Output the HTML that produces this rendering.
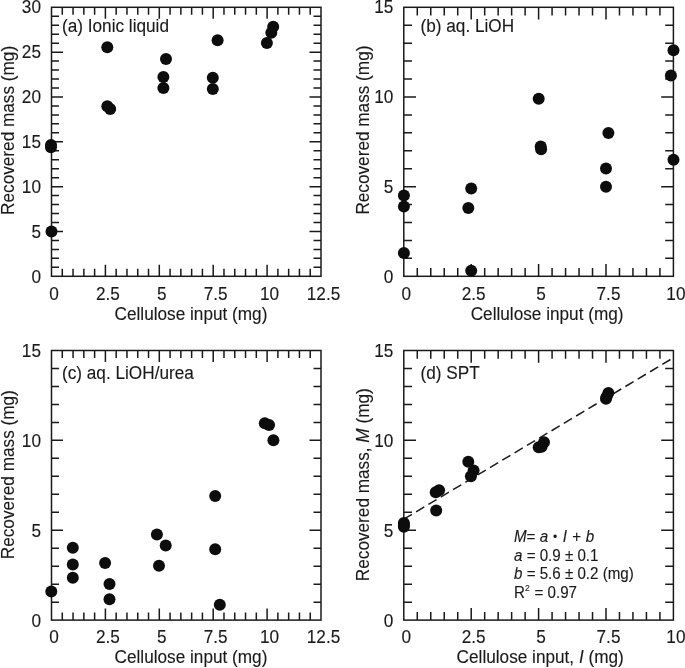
<!DOCTYPE html>
<html lang="en">
<head>
<meta charset="utf-8">
<title>Recovered mass vs cellulose input</title>
<style>
html,body{margin:0;padding:0;background:#fff;}
body{width:685px;height:668px;overflow:hidden;}
svg{display:block;will-change:transform;}
svg text{font-family:"Liberation Sans",Arial,Helvetica,sans-serif;font-size:17.2px;fill:#1a1a1a;stroke:#1a1a1a;stroke-width:0.12;}
.ax{stroke:#1a1a1a;stroke-width:1.5;fill:none;stroke-linecap:butt;}
.pt{fill:#0d0d0d;}
.sm{font-size:15.15px;}
</style>
</head>
<body>
<svg width="685" height="668" viewBox="0 0 685 668">
<rect x="0" y="0" width="685" height="668" fill="#ffffff"/>
<g id="panel-a">
<path class="ax" d="M62.28 276.3V268.8M62.28 7.3V14.8M73.06 276.3V268.8M73.06 7.3V14.8M83.84 276.3V268.8M83.84 7.3V14.8M94.62 276.3V268.8M94.62 7.3V14.8M105.4 276.3V264.8M105.4 7.3V18.8M116.18 276.3V268.8M116.18 7.3V14.8M126.96 276.3V268.8M126.96 7.3V14.8M137.74 276.3V268.8M137.74 7.3V14.8M148.52 276.3V268.8M148.52 7.3V14.8M159.3 276.3V264.8M159.3 7.3V18.8M170.08 276.3V268.8M170.08 7.3V14.8M180.86 276.3V268.8M180.86 7.3V14.8M191.64 276.3V268.8M191.64 7.3V14.8M202.42 276.3V268.8M202.42 7.3V14.8M213.2 276.3V264.8M213.2 7.3V18.8M223.98 276.3V268.8M223.98 7.3V14.8M234.76 276.3V268.8M234.76 7.3V14.8M245.54 276.3V268.8M245.54 7.3V14.8M256.32 276.3V268.8M256.32 7.3V14.8M267.1 276.3V264.8M267.1 7.3V18.8M277.88 276.3V268.8M277.88 7.3V14.8M288.66 276.3V268.8M288.66 7.3V14.8M299.44 276.3V268.8M299.44 7.3V14.8M310.22 276.3V268.8M310.22 7.3V14.8M51.5 267.33H59M321 267.33H313.5M51.5 258.37H59M321 258.37H313.5M51.5 249.4H59M321 249.4H313.5M51.5 240.43H59M321 240.43H313.5M51.5 231.47H63M321 231.47H309.5M51.5 222.5H59M321 222.5H313.5M51.5 213.53H59M321 213.53H313.5M51.5 204.57H59M321 204.57H313.5M51.5 195.6H59M321 195.6H313.5M51.5 186.63H63M321 186.63H309.5M51.5 177.67H59M321 177.67H313.5M51.5 168.7H59M321 168.7H313.5M51.5 159.73H59M321 159.73H313.5M51.5 150.77H59M321 150.77H313.5M51.5 141.8H63M321 141.8H309.5M51.5 132.83H59M321 132.83H313.5M51.5 123.87H59M321 123.87H313.5M51.5 114.9H59M321 114.9H313.5M51.5 105.93H59M321 105.93H313.5M51.5 96.97H63M321 96.97H309.5M51.5 88H59M321 88H313.5M51.5 79.03H59M321 79.03H313.5M51.5 70.07H59M321 70.07H313.5M51.5 61.1H59M321 61.1H313.5M51.5 52.13H63M321 52.13H309.5M51.5 43.17H59M321 43.17H313.5M51.5 34.2H59M321 34.2H313.5M51.5 25.23H59M321 25.23H313.5M51.5 16.27H59M321 16.27H313.5"/>
<rect class="ax" x="51.5" y="7.3" width="269.5" height="269"/>
<text transform="translate(54 299.6) scale(1 1.04)" text-anchor="middle">0</text>
<text transform="translate(107.9 299.6) scale(1 1.04)" text-anchor="middle">2.5</text>
<text transform="translate(161.8 299.6) scale(1 1.04)" text-anchor="middle">5</text>
<text transform="translate(215.7 299.6) scale(1 1.04)" text-anchor="middle">7.5</text>
<text transform="translate(269.6 299.6) scale(1 1.04)" text-anchor="middle">10</text>
<text transform="translate(323.5 299.6) scale(1 1.04)" text-anchor="middle">12.5</text>
<text transform="translate(41 282.8) scale(1 1.04)" text-anchor="end">0</text>
<text transform="translate(41 237.78) scale(1 1.04)" text-anchor="end">5</text>
<text transform="translate(41 192.75) scale(1 1.04)" text-anchor="end">10</text>
<text transform="translate(41 147.73) scale(1 1.04)" text-anchor="end">15</text>
<text transform="translate(41 102.7) scale(1 1.04)" text-anchor="end">20</text>
<text transform="translate(41 57.68) scale(1 1.04)" text-anchor="end">25</text>
<text transform="translate(41 12.65) scale(1 1.04)" text-anchor="end">30</text>
<text transform="translate(62 31.6) scale(1 1.04)">(a) Ionic liquid</text>
<text transform="translate(191 320) scale(1 1.04)" text-anchor="middle">Cellulose input (mg)</text>
<text transform="translate(14.3 130.4) rotate(-90) scale(1 1.04)" text-anchor="middle">Recovered mass (mg)</text>
<circle class="pt" cx="51" cy="144.9" r="6"/>
<circle class="pt" cx="51" cy="147.3" r="6"/>
<circle class="pt" cx="51.5" cy="231.6" r="6"/>
<circle class="pt" cx="107.3" cy="47.2" r="6"/>
<circle class="pt" cx="107.3" cy="106.3" r="6"/>
<circle class="pt" cx="110.2" cy="109" r="6"/>
<circle class="pt" cx="166" cy="58.9" r="6"/>
<circle class="pt" cx="163.4" cy="77.1" r="6"/>
<circle class="pt" cx="163.4" cy="87.9" r="6"/>
<circle class="pt" cx="217.6" cy="40.2" r="6"/>
<circle class="pt" cx="212.8" cy="77.8" r="6"/>
<circle class="pt" cx="212.8" cy="88.9" r="6"/>
<circle class="pt" cx="266.9" cy="43.1" r="6"/>
<circle class="pt" cx="271.3" cy="32.8" r="6"/>
<circle class="pt" cx="273.2" cy="26.8" r="6"/>
</g>
<g id="panel-b">
<path class="ax" d="M417.28 276.3V268.1M417.28 7.3V15.5M430.76 276.3V268.1M430.76 7.3V15.5M444.24 276.3V268.1M444.24 7.3V15.5M457.72 276.3V268.1M457.72 7.3V15.5M471.2 276.3V264.1M471.2 7.3V19.5M484.68 276.3V268.1M484.68 7.3V15.5M498.16 276.3V268.1M498.16 7.3V15.5M511.64 276.3V268.1M511.64 7.3V15.5M525.12 276.3V268.1M525.12 7.3V15.5M538.6 276.3V264.1M538.6 7.3V19.5M552.08 276.3V268.1M552.08 7.3V15.5M565.56 276.3V268.1M565.56 7.3V15.5M579.04 276.3V268.1M579.04 7.3V15.5M592.52 276.3V268.1M592.52 7.3V15.5M606 276.3V264.1M606 7.3V19.5M619.48 276.3V268.1M619.48 7.3V15.5M632.96 276.3V268.1M632.96 7.3V15.5M646.44 276.3V268.1M646.44 7.3V15.5M659.92 276.3V268.1M659.92 7.3V15.5M403.8 258.37H412M673.4 258.37H665.2M403.8 240.43H412M673.4 240.43H665.2M403.8 222.5H412M673.4 222.5H665.2M403.8 204.57H412M673.4 204.57H665.2M403.8 186.63H416M673.4 186.63H661.2M403.8 168.7H412M673.4 168.7H665.2M403.8 150.77H412M673.4 150.77H665.2M403.8 132.83H412M673.4 132.83H665.2M403.8 114.9H412M673.4 114.9H665.2M403.8 96.97H416M673.4 96.97H661.2M403.8 79.03H412M673.4 79.03H665.2M403.8 61.1H412M673.4 61.1H665.2M403.8 43.17H412M673.4 43.17H665.2M403.8 25.23H412M673.4 25.23H665.2"/>
<rect class="ax" x="403.8" y="7.3" width="269.6" height="269"/>
<text transform="translate(406.3 299.6) scale(1 1.04)" text-anchor="middle">0</text>
<text transform="translate(473.7 299.6) scale(1 1.04)" text-anchor="middle">2.5</text>
<text transform="translate(541.1 299.6) scale(1 1.04)" text-anchor="middle">5</text>
<text transform="translate(608.5 299.6) scale(1 1.04)" text-anchor="middle">7.5</text>
<text transform="translate(675.9 299.6) scale(1 1.04)" text-anchor="middle">10</text>
<text transform="translate(393.3 282.8) scale(1 1.04)" text-anchor="end">0</text>
<text transform="translate(393.3 193) scale(1 1.04)" text-anchor="end">5</text>
<text transform="translate(393.3 103.2) scale(1 1.04)" text-anchor="end">10</text>
<text transform="translate(393.3 13.4) scale(1 1.04)" text-anchor="end">15</text>
<text transform="translate(420.5 31.6) scale(1 1.04)">(b) aq. LiOH</text>
<text transform="translate(547.1 320) scale(1 1.04)" text-anchor="middle">Cellulose input (mg)</text>
<text transform="translate(369.2 130.1) rotate(-90) scale(1 1.04)" text-anchor="middle">Recovered mass (mg)</text>
<circle class="pt" cx="403.9" cy="195.6" r="6"/>
<circle class="pt" cx="403.9" cy="206.6" r="6"/>
<circle class="pt" cx="403.9" cy="252.9" r="6"/>
<circle class="pt" cx="471.2" cy="188.4" r="6"/>
<circle class="pt" cx="468.3" cy="208.1" r="6"/>
<circle class="pt" cx="471.2" cy="270.8" r="6"/>
<circle class="pt" cx="538.7" cy="98.7" r="6"/>
<circle class="pt" cx="540.7" cy="146.6" r="6"/>
<circle class="pt" cx="541.1" cy="149.3" r="6"/>
<circle class="pt" cx="608.4" cy="132.9" r="6"/>
<circle class="pt" cx="606" cy="168.6" r="6"/>
<circle class="pt" cx="606" cy="186.8" r="6"/>
<circle class="pt" cx="673.5" cy="50.3" r="6"/>
<circle class="pt" cx="670.9" cy="75.4" r="6"/>
<circle class="pt" cx="673.5" cy="159.7" r="6"/>
</g>
<g id="panel-c">
<path class="ax" d="M62.28 620.1V612.6M62.28 350.5V358M73.06 620.1V612.6M73.06 350.5V358M83.84 620.1V612.6M83.84 350.5V358M94.62 620.1V612.6M94.62 350.5V358M105.4 620.1V608.6M105.4 350.5V362M116.18 620.1V612.6M116.18 350.5V358M126.96 620.1V612.6M126.96 350.5V358M137.74 620.1V612.6M137.74 350.5V358M148.52 620.1V612.6M148.52 350.5V358M159.3 620.1V608.6M159.3 350.5V362M170.08 620.1V612.6M170.08 350.5V358M180.86 620.1V612.6M180.86 350.5V358M191.64 620.1V612.6M191.64 350.5V358M202.42 620.1V612.6M202.42 350.5V358M213.2 620.1V608.6M213.2 350.5V362M223.98 620.1V612.6M223.98 350.5V358M234.76 620.1V612.6M234.76 350.5V358M245.54 620.1V612.6M245.54 350.5V358M256.32 620.1V612.6M256.32 350.5V358M267.1 620.1V608.6M267.1 350.5V362M277.88 620.1V612.6M277.88 350.5V358M288.66 620.1V612.6M288.66 350.5V358M299.44 620.1V612.6M299.44 350.5V358M310.22 620.1V612.6M310.22 350.5V358M51.5 602.13H59M321 602.13H313.5M51.5 584.15H59M321 584.15H313.5M51.5 566.18H59M321 566.18H313.5M51.5 548.21H59M321 548.21H313.5M51.5 530.23H63M321 530.23H309.5M51.5 512.26H59M321 512.26H313.5M51.5 494.29H59M321 494.29H313.5M51.5 476.31H59M321 476.31H313.5M51.5 458.34H59M321 458.34H313.5M51.5 440.37H63M321 440.37H309.5M51.5 422.39H59M321 422.39H313.5M51.5 404.42H59M321 404.42H313.5M51.5 386.45H59M321 386.45H313.5M51.5 368.47H59M321 368.47H313.5"/>
<rect class="ax" x="51.5" y="350.5" width="269.5" height="269.6"/>
<text transform="translate(54 643.4) scale(1 1.04)" text-anchor="middle">0</text>
<text transform="translate(107.9 643.4) scale(1 1.04)" text-anchor="middle">2.5</text>
<text transform="translate(161.8 643.4) scale(1 1.04)" text-anchor="middle">5</text>
<text transform="translate(215.7 643.4) scale(1 1.04)" text-anchor="middle">7.5</text>
<text transform="translate(269.6 643.4) scale(1 1.04)" text-anchor="middle">10</text>
<text transform="translate(323.5 643.4) scale(1 1.04)" text-anchor="middle">12.5</text>
<text transform="translate(41 626.7) scale(1 1.04)" text-anchor="end">0</text>
<text transform="translate(41 536.67) scale(1 1.04)" text-anchor="end">5</text>
<text transform="translate(41 446.63) scale(1 1.04)" text-anchor="end">10</text>
<text transform="translate(41 356.6) scale(1 1.04)" text-anchor="end">15</text>
<text transform="translate(62 378.9) scale(1 1.04)">(c) aq. LiOH/urea</text>
<text transform="translate(191 663.2) scale(1 1.04)" text-anchor="middle">Cellulose input (mg)</text>
<text transform="translate(14.3 474.7) rotate(-90) scale(1 1.04)" text-anchor="middle">Recovered mass (mg)</text>
<circle class="pt" cx="51.3" cy="591.6" r="6"/>
<circle class="pt" cx="72.8" cy="547.8" r="6"/>
<circle class="pt" cx="72.8" cy="564.6" r="6"/>
<circle class="pt" cx="72.8" cy="577.7" r="6"/>
<circle class="pt" cx="105.1" cy="563.1" r="6"/>
<circle class="pt" cx="109.5" cy="584" r="6"/>
<circle class="pt" cx="109.5" cy="599.3" r="6"/>
<circle class="pt" cx="156.9" cy="534.4" r="6"/>
<circle class="pt" cx="165.7" cy="545.4" r="6"/>
<circle class="pt" cx="159" cy="565.7" r="6"/>
<circle class="pt" cx="215.2" cy="496" r="6"/>
<circle class="pt" cx="215.2" cy="549.3" r="6"/>
<circle class="pt" cx="219.8" cy="604.7" r="6"/>
<circle class="pt" cx="264.8" cy="423.2" r="6"/>
<circle class="pt" cx="269.1" cy="425.1" r="6"/>
<circle class="pt" cx="273.4" cy="440.2" r="6"/>
</g>
<g id="panel-d">
<path class="ax" d="M417.28 620.1V611.9M417.28 350.5V358.7M430.76 620.1V611.9M430.76 350.5V358.7M444.24 620.1V611.9M444.24 350.5V358.7M457.72 620.1V611.9M457.72 350.5V358.7M471.2 620.1V607.9M471.2 350.5V362.7M484.68 620.1V611.9M484.68 350.5V358.7M498.16 620.1V611.9M498.16 350.5V358.7M511.64 620.1V611.9M511.64 350.5V358.7M525.12 620.1V611.9M525.12 350.5V358.7M538.6 620.1V607.9M538.6 350.5V362.7M552.08 620.1V611.9M552.08 350.5V358.7M565.56 620.1V611.9M565.56 350.5V358.7M579.04 620.1V611.9M579.04 350.5V358.7M592.52 620.1V611.9M592.52 350.5V358.7M606 620.1V607.9M606 350.5V362.7M619.48 620.1V611.9M619.48 350.5V358.7M632.96 620.1V611.9M632.96 350.5V358.7M646.44 620.1V611.9M646.44 350.5V358.7M659.92 620.1V611.9M659.92 350.5V358.7M403.8 602.13H412M673.4 602.13H665.2M403.8 584.15H412M673.4 584.15H665.2M403.8 566.18H412M673.4 566.18H665.2M403.8 548.21H412M673.4 548.21H665.2M403.8 530.23H416M673.4 530.23H661.2M403.8 512.26H412M673.4 512.26H665.2M403.8 494.29H412M673.4 494.29H665.2M403.8 476.31H412M673.4 476.31H665.2M403.8 458.34H412M673.4 458.34H665.2M403.8 440.37H416M673.4 440.37H661.2M403.8 422.39H412M673.4 422.39H665.2M403.8 404.42H412M673.4 404.42H665.2M403.8 386.45H412M673.4 386.45H665.2M403.8 368.47H412M673.4 368.47H665.2"/>
<rect class="ax" x="403.8" y="350.5" width="269.6" height="269.6"/>
<text transform="translate(406.3 643.4) scale(1 1.04)" text-anchor="middle">0</text>
<text transform="translate(473.7 643.4) scale(1 1.04)" text-anchor="middle">2.5</text>
<text transform="translate(541.1 643.4) scale(1 1.04)" text-anchor="middle">5</text>
<text transform="translate(608.5 643.4) scale(1 1.04)" text-anchor="middle">7.5</text>
<text transform="translate(675.9 643.4) scale(1 1.04)" text-anchor="middle">10</text>
<text transform="translate(393.3 626.7) scale(1 1.04)" text-anchor="end">0</text>
<text transform="translate(393.3 536.67) scale(1 1.04)" text-anchor="end">5</text>
<text transform="translate(393.3 446.63) scale(1 1.04)" text-anchor="end">10</text>
<text transform="translate(393.3 356.6) scale(1 1.04)" text-anchor="end">15</text>
<text transform="translate(420.5 378.9) scale(1 1.04)">(d) SPT</text>
<text transform="translate(540.2 663.2) scale(1 1.04)" text-anchor="middle">Cellulose input, <tspan font-style="italic">I</tspan> (mg)</text>
<text transform="translate(369.2 484.7) rotate(-90) scale(1 1.04)" text-anchor="middle">Recovered mass, <tspan font-style="italic">M</tspan> (mg)</text>
<line class="ax" x1="403.8" y1="519.2" x2="673.5" y2="357.7" stroke-dasharray="9.5 4.85" stroke-dashoffset="0"/>
<text transform="translate(514 542.2) scale(1 1.04)" class="sm"><tspan font-style="italic">M</tspan>= <tspan font-style="italic">a</tspan> <tspan font-size="12px" dx="0.6" dy="-1.0">•</tspan><tspan dy="1.0" dx="0.1"> </tspan><tspan font-style="italic" dx="1.2">I</tspan><tspan dx="1.2"> + </tspan><tspan font-style="italic" dx="0.5">b</tspan></text>
<text transform="translate(514 560.7) scale(1 1.04)" class="sm"><tspan font-style="italic">a</tspan> = 0.9 ± 0.1</text>
<text transform="translate(514 579.4) scale(1 1.04)" class="sm"><tspan font-style="italic">b</tspan> = 5.6 ± 0.2 (mg)</text>
<text transform="translate(514 597.6) scale(1 1.04)" class="sm">R<tspan font-size="8.5px" dy="-6.2">2</tspan><tspan dy="6.2" dx="0.6"> = 0.97</tspan></text>
<circle class="pt" cx="403.9" cy="523" r="6"/>
<circle class="pt" cx="403.9" cy="524.9" r="6"/>
<circle class="pt" cx="403.9" cy="526.8" r="6"/>
<circle class="pt" cx="436.2" cy="510.4" r="6"/>
<circle class="pt" cx="435.7" cy="492.2" r="6"/>
<circle class="pt" cx="439.1" cy="490.3" r="6"/>
<circle class="pt" cx="468.3" cy="461.8" r="6"/>
<circle class="pt" cx="473.6" cy="470.4" r="6"/>
<circle class="pt" cx="470.9" cy="476.2" r="6"/>
<circle class="pt" cx="538.7" cy="447.2" r="6"/>
<circle class="pt" cx="541.6" cy="446.7" r="6"/>
<circle class="pt" cx="544" cy="442.2" r="6"/>
<circle class="pt" cx="608.4" cy="392.9" r="6"/>
<circle class="pt" cx="606" cy="398.7" r="6"/>
<circle class="pt" cx="606.5" cy="397" r="6"/>
</g>
</svg>
</body>
</html>
